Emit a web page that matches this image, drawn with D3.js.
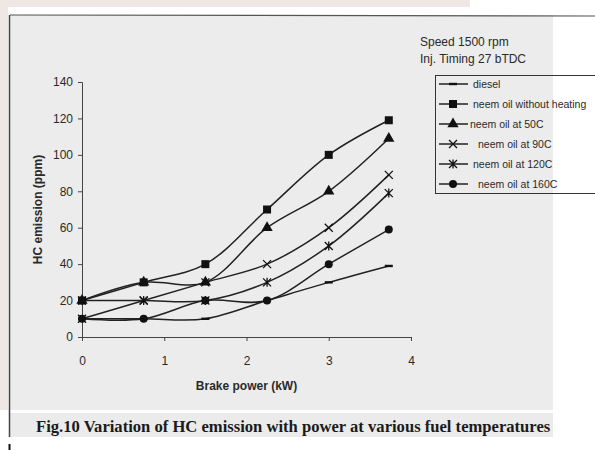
<!DOCTYPE html>
<html>
<head>
<meta charset="utf-8">
<script src="https://d3js.org/d3.v7.min.js"></script>
<style>
    body { margin: 0; background: #ffffff; }
    text { font-family: "Liberation Sans", Arial, sans-serif; fill: #2a2a2a; }
    .tick-label { font-size: 12px; }
    .axis-title { font-size: 12px; font-weight: bold; }
    .legend-label { font-size: 10.5px; }
    .note { font-size: 12px; }
    .caption { font-family: "Liberation Serif", "Times New Roman", serif; font-size: 16.6px; font-weight: bold; fill: #1a1a1a; }
</style>
</head>
<body>
<div id="container"></div>
<script>
    // data
    const powerKW = [0, 0.75, 1.5, 2.25, 3, 3.73];
    const diesel = [10, 10, 10, 20, 30, 39];
    const neemNoHeat = [20, 30, 40, 70, 100, 119];
    const neem50 = [20, 30, 30, 60, 80, 109];
    const neem90 = [10, 20, 30, 40, 60, 89];
    const neem120 = [20, 20, 20, 30, 50, 79];
    const neem160 = [10, 10, 20, 20, 40, 59];
    const seriesNames = ["diesel", "neem oil without heating", "neem oil at 50C",
        "neem oil at 90C", "neem oil at 120C", "neem oil at 160C"];
    const seriesMarkers = ["dash", "square", "triangle", "x", "star", "circle"];
    const yTicks = [0, 20, 40, 60, 80, 100, 120, 140];
    const xTicks = [0, 1, 2, 3, 4];

    const series = [diesel, neemNoHeat, neem50, neem90, neem120, neem160].map((vals, i) => ({
        name: seriesNames[i],
        marker: seriesMarkers[i],
        values: vals.map((v, j) => ({ x: powerKW[j], y: v }))
    }));

    const W = 595, H = 450;
    const svg = d3.select("#container").append("svg")
        .attr("width", W).attr("height", H);

    // scanned page background
    svg.append("rect").attr("x", 0).attr("y", 0).attr("width", W).attr("height", H).attr("fill", "#ffffff");
    svg.append("rect").attr("x", 0).attr("y", 0).attr("width", 470).attr("height", 7).attr("fill", "#efe7e3");
    svg.append("rect").attr("x", 0).attr("y", 0).attr("width", 8).attr("height", 410).attr("fill", "#efe7e3");
    // chart panel
    svg.append("rect").attr("x", 10).attr("y", 15).attr("width", 543).attr("height", 395).attr("fill", "#ececec");
    // caption band
    svg.append("rect").attr("x", 10).attr("y", 413).attr("width", 543).attr("height", 24).attr("fill", "#ebebeb");
    svg.append("line").attr("x1", 10).attr("x2", 595).attr("y1", 15).attr("y2", 16)
        .attr("stroke", "#555").attr("stroke-width", 1.2);
    svg.append("line").attr("x1", 9.5).attr("x2", 9.5).attr("y1", 15).attr("y2", 437)
        .attr("stroke", "#444").attr("stroke-width", 1.5);
    svg.append("line").attr("x1", 9.5).attr("x2", 9.5).attr("y1", 444).attr("y2", 450)
        .attr("stroke", "#111").attr("stroke-width", 2);

    const x = d3.scaleLinear().domain([0, 4]).range([82, 411]);
    const y = d3.scaleLinear().domain([0, 140]).range([337, 82]);

    // y axis
    const yAxis = svg.append("g")
        .attr("transform", "translate(" + x(0) + ",0)")
        .call(d3.axisLeft(y).tickValues(yTicks).tickSize(4).tickPadding(5));
    yAxis.select(".domain").attr("stroke", "#444");
    yAxis.selectAll(".tick line").attr("stroke", "#444");
    yAxis.selectAll(".tick text").attr("class", "tick-label").attr("font-family", null).attr("font-size", null).attr("fill", "#2a2a2a");

    // x axis
    const xAxis = svg.append("g")
        .attr("transform", "translate(0," + y(0) + ")")
        .call(d3.axisBottom(x).tickValues(xTicks).tickFormat(d3.format("d")).tickSize(4).tickPadding(15));
    xAxis.select(".domain").attr("stroke", "#444");
    xAxis.selectAll(".tick line").attr("stroke", "#444");
    xAxis.selectAll(".tick text").attr("class", "tick-label").attr("font-family", null).attr("font-size", null).attr("fill", "#2a2a2a");

    svg.append("text").attr("class", "axis-title")
        .attr("x", x(2)).attr("y", 390).attr("text-anchor", "middle")
        .text("Brake power (kW)");
    svg.append("text").attr("class", "axis-title")
        .attr("transform", "translate(42," + y(70) + ") rotate(-90)")
        .attr("text-anchor", "middle")
        .text("HC emission (ppm)");

    // smooth lines
    const line = d3.line()
        .x(d => x(d.x)).y(d => y(d.y))
        .curve(d3.curveCatmullRom.alpha(0.5));

    svg.append("g").selectAll("path")
        .data(series).enter().append("path")
        .attr("d", d => line(d.values))
        .attr("fill", "none")
        .attr("stroke", "#222")
        .attr("stroke-width", 1.5);

    function drawMarker(g, type) {
        if (type === "square") {
            g.append("rect").attr("x", -4).attr("y", -4).attr("width", 8).attr("height", 8).attr("fill", "#111");
        } else if (type === "triangle") {
            g.append("path").attr("d", d3.symbol(d3.symbolTriangle, 55)()).attr("fill", "#111");
        } else if (type === "circle") {
            g.append("circle").attr("r", 4).attr("fill", "#111");
        } else if (type === "dash") {
            g.append("rect").attr("x", -4).attr("y", -1.2).attr("width", 8).attr("height", 2.4).attr("fill", "#111");
        } else if (type === "x") {
            g.append("path").attr("d", "M-4,-4L4,4M-4,4L4,-4")
                .attr("stroke", "#111").attr("stroke-width", 1.3).attr("fill", "none");
        } else if (type === "star") {
            g.append("path").attr("d", "M-4,-4L4,4M-4,4L4,-4M0,-4.5L0,4.5")
                .attr("stroke", "#111").attr("stroke-width", 1.3).attr("fill", "none");
        }
    }

    series.forEach(s => {
        s.values.forEach(p => {
            const g = svg.append("g").attr("transform", "translate(" + x(p.x) + "," + y(p.y) + ")");
            drawMarker(g, s.marker);
        });
    });

    // notes
    svg.append("text").attr("class", "note").attr("x", 420).attr("y", 46).text("Speed 1500 rpm");
    svg.append("text").attr("class", "note").attr("x", 420).attr("y", 63).text("Inj. Timing 27 bTDC");

    // legend
    svg.append("rect").attr("x", 435.5).attr("y", 75.5).attr("width", 162).attr("height", 118)
        .attr("fill", "none").attr("stroke", "#333").attr("stroke-width", 1);
    const legendIndent = [0, 0, -3, 5, 0, 5];
    series.forEach((s, i) => {
        const ly = 84 + i * 20;
        svg.append("line").attr("x1", 439).attr("x2", 468).attr("y1", ly).attr("y2", ly)
            .attr("stroke", "#222").attr("stroke-width", 1.5);
        const g = svg.append("g").attr("transform", "translate(453," + ly + ")");
        drawMarker(g, s.marker);
        svg.append("text").attr("class", "legend-label")
            .attr("x", 473 + legendIndent[i]).attr("y", ly + 3.5)
            .text(s.name);
    });

    // caption
    svg.append("text").attr("class", "caption")
        .attr("x", 36).attr("y", 432)
        .text("Fig.10 Variation of HC emission with power at various fuel temperatures");
</script>
</body>
</html>
